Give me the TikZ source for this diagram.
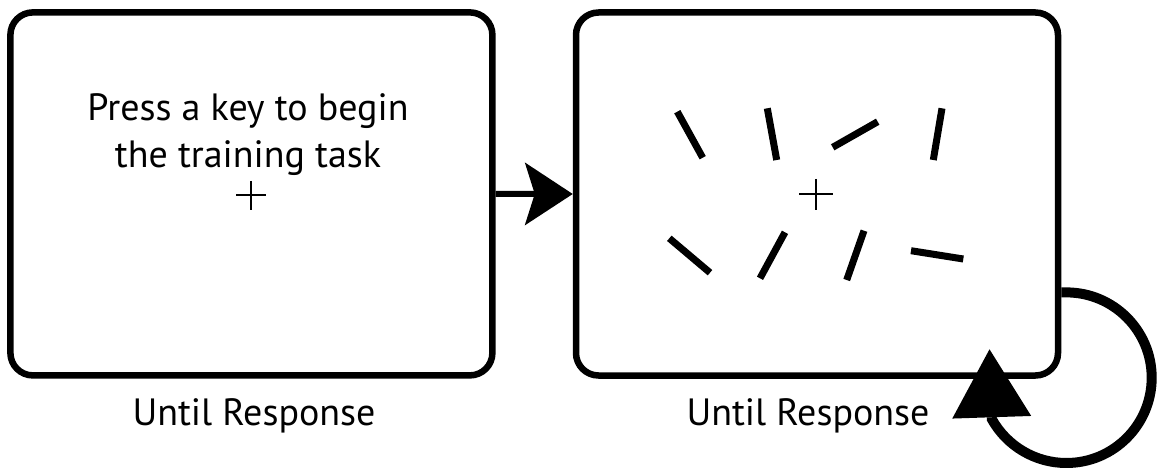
\documentclass[tikz,border=0pt]{standalone}
\usepackage{fontspec}
\setmainfont{PT Sans}
\usetikzlibrary{arrows.meta,calc}
\begin{document}
\begin{tikzpicture}[x=1pt,y=1pt,
  screen/.style={draw, line width=6.5pt, rounded corners=22.5pt,
    minimum width=482pt, minimum height=363pt, inner sep=0pt},
  caption/.style={font=\fontsize{38}{46.5}\selectfont, inner sep=0pt},
  bar/.style={line width=7pt},
  fixation/.style={line width=2pt},
  flow/.style={line width=6pt,
    -{Stealth[length=48pt,width=63pt,inset=10pt,line width=0pt]}},
  repeatloop/.style={line width=10pt,
    -{Triangle[length=68pt,width=79pt,line width=0pt]}}]

\useasboundingbox (0,0) rectangle (1157,-468);

% the two screens
\node[screen] (S1) at (251.4,-193.9) {};
\node[screen] (S2) at (817,-194) {};

% first screen: instruction and fixation cross
% (base anchor of a two-line node sits on its last line)
\node[caption, align=center, anchor=base] (msg) at (248,-167.3)
  {Press a key to begin\\the training task};
\draw[fixation] (236,-195) -- (266,-195) (251,-181) -- (251,-210);

% second screen: oriented bars around the fixation cross
\draw[fixation] (799,-194) -- (833,-194) (816,-179) -- (816,-210);
\draw[bar] (677.3,-111.7) -- (702.7,-157.7);
\draw[bar] (767.3,-108.3) -- (776.7,-160);
\draw[bar] (832.7,-147.3) -- (877.7,-121.7);
\draw[bar] (942,-108.3) -- (933.3,-160);
\draw[bar] (669.3,-238.3) -- (710,-272.7);
\draw[bar] (785,-232.3) -- (760,-278.3);
\draw[bar] (864,-230.7) -- (846.7,-280);
\draw[bar] (911,-250.7) -- (963.3,-259);

% durations
\node[caption, anchor=base] (d1) at (254,-425) {Until Response};
\node[caption, anchor=base] (d2) at (808,-425) {Until Response};

% transition between screens
\draw[flow] (S1.east) -- (S2.west);

% the second screen repeats until a response
\coordinate (loopstart) at ($(S2.east)+(0,-98.4)$);
\coordinate (looptip) at (989.5,-349.3);
\draw[repeatloop] (loopstart) -- (1066.4,-292.4)
  arc[start angle=90, end angle=-151, radius=85.3] -- (looptip);
\end{tikzpicture}
\end{document}
